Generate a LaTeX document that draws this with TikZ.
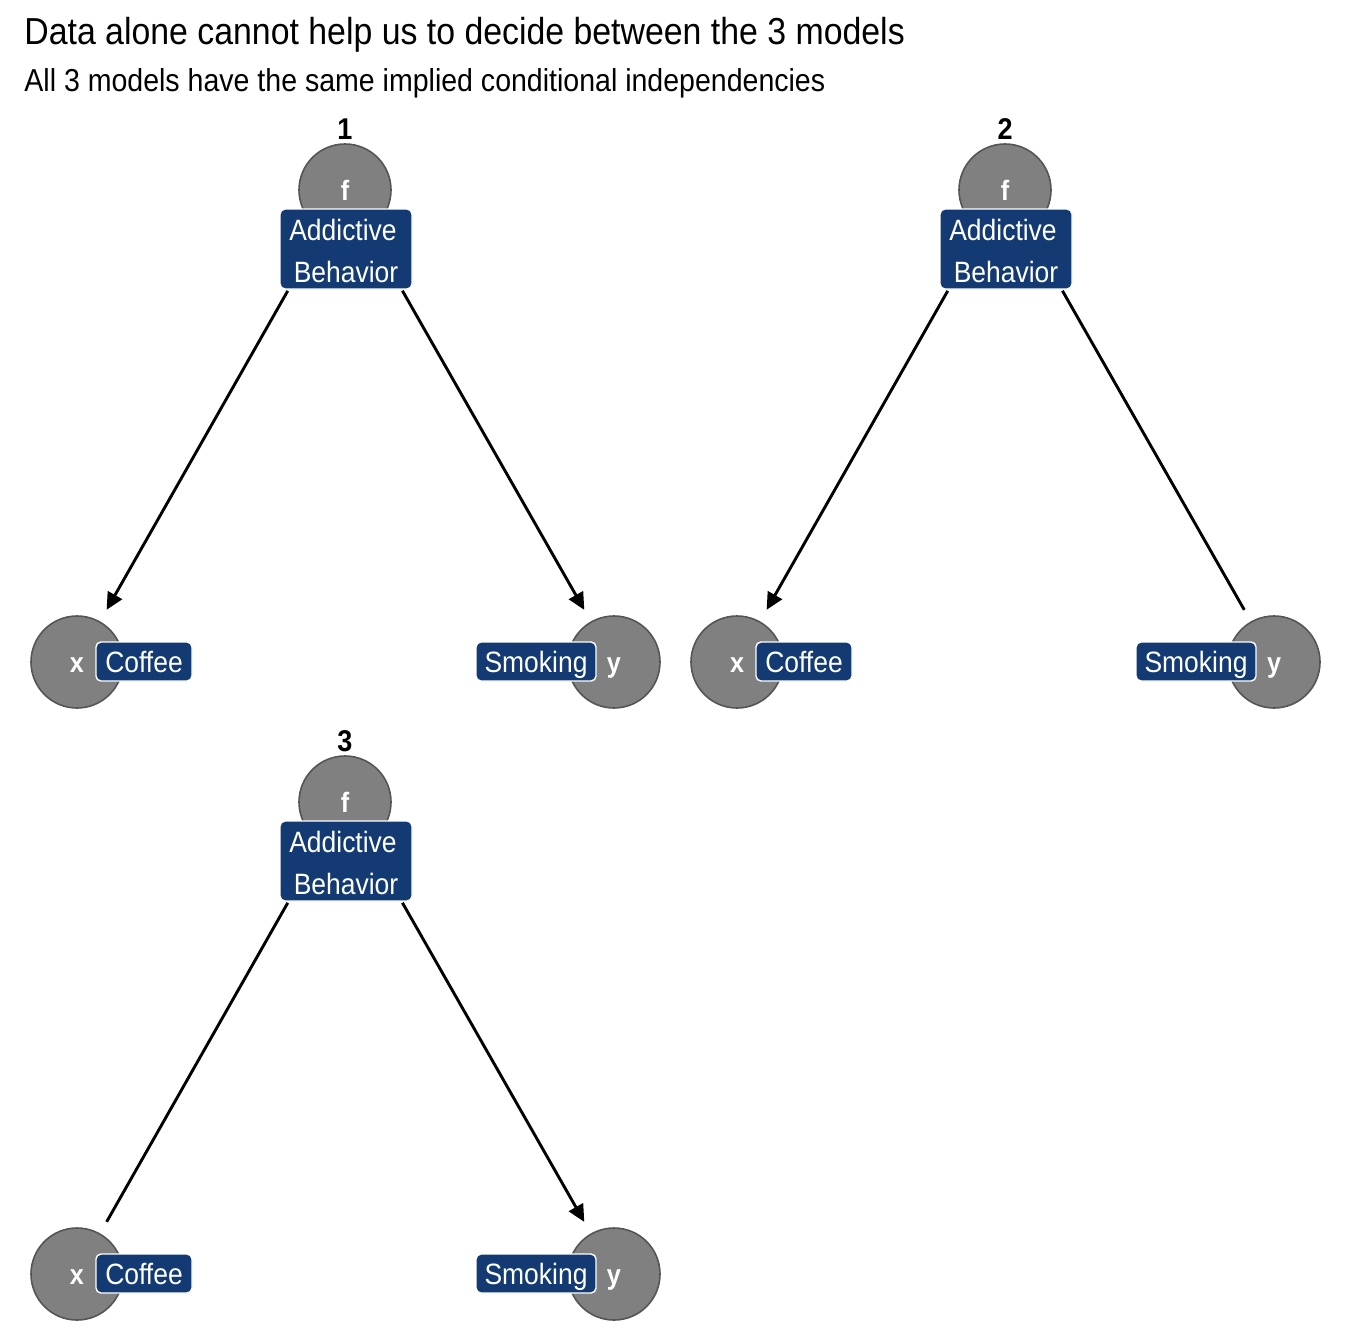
\documentclass[tikz,border=0pt]{standalone}
\usepackage{fontspec}
\setmainfont{Liberation Sans}[FakeStretch=0.9]
\usetikzlibrary{arrows.meta}
\definecolor{lblue}{HTML}{133A73}
\definecolor{cgray}{HTML}{808080}
\definecolor{cedge}{HTML}{555555}
\tikzset{
  vnode/.style={circle,draw=cedge,fill=cgray,line width=0.8pt,minimum size=46pt,inner sep=0pt},
  vlet/.style={text=white,font=\bfseries\fontsize{14}{14}\selectfont,inner sep=0pt,anchor=base},
  lbl/.style={draw=white,fill=lblue,text=white,rounded corners=2.5pt,line width=0.7pt,inner sep=0pt,
    font=\fontsize{14.7}{14.7}\selectfont,text height=10.5pt,text depth=0pt},
  bigl/.style={lbl,minimum width=66pt,minimum height=40pt},
  coffl/.style={lbl,minimum width=48pt,minimum height=19.5pt},
  smokl/.style={lbl,minimum width=60pt,minimum height=19.5pt},
  ltxt/.style={text=white,font=\fontsize{14.7}{14.7}\selectfont,inner sep=0pt,anchor=base},
  pnum/.style={font=\bfseries\fontsize{15}{15}\selectfont,inner sep=0pt,anchor=base},
  edg/.style={line width=1.45pt,shorten <=58pt,shorten >=30pt},
  arr/.style={edg,-{Triangle[length=8.5pt,width=8pt]}}
}
\begin{document}
\begin{tikzpicture}[x=0.5pt,y=-0.5pt]
\useasboundingbox (0,0) rectangle (1344,1344);
\node[anchor=base west,inner sep=0pt,font=\fontsize{18.8}{18.8}\selectfont] (title) at (24,44) {Data alone cannot help us to decide between the 3 models};
\node[anchor=base west,inner sep=0pt,font=\fontsize{15.85}{15.85}\selectfont] (sub) at (24,91) {All 3 models have the same implied conditional independencies};
% panel 1
\begin{scope}
\node[pnum] (n1) at (345,139) {1};
\node[vnode] (f1) at (345,190) {};
\node[vnode] (x1) at (77,662) {};
\node[vnode] (y1) at (614,662) {};
\draw[arr] (f1.center) -- (x1.center);
\draw[arr] (f1.center) -- (y1.center);
\node[vlet] (fl1) at (345,200) {f};
\node[vlet] (xl1) at (77,672) {x};
\node[vlet] (yl1) at (614,672) {y};
\node[bigl] (ab1) at (346,249) {};
\node[ltxt] (ab1a) at (343,240) {Addictive};
\node[ltxt] (ab1b) at (346,282) {Behavior};
\node[coffl] (cf1) at (144,661.5) {Coffee};
\node[smokl] (sm1) at (536,661.5) {Smoking};
\end{scope}
% panel 2
\begin{scope}[shift={(660,0)}]
\node[pnum] (n2) at (345,139) {2};
\node[vnode] (f2) at (345,190) {};
\node[vnode] (x2) at (77,662) {};
\node[vnode] (y2) at (614,662) {};
\draw[arr] (f2.center) -- (x2.center);
\draw[edg] (f2.center) -- (y2.center);
\node[vlet] (fl2) at (345,200) {f};
\node[vlet] (xl2) at (77,672) {x};
\node[vlet] (yl2) at (614,672) {y};
\node[bigl] (ab2) at (346,249) {};
\node[ltxt] (ab2a) at (343,240) {Addictive};
\node[ltxt] (ab2b) at (346,282) {Behavior};
\node[coffl] (cf2) at (144,661.5) {Coffee};
\node[smokl] (sm2) at (536,661.5) {Smoking};
\end{scope}
% panel 3
\begin{scope}[shift={(0,612)}]
\node[pnum] (n3) at (345,139) {3};
\node[vnode] (f3) at (345,190) {};
\node[vnode] (x3) at (77,662) {};
\node[vnode] (y3) at (614,662) {};
\draw[edg] (f3.center) -- (x3.center);
\draw[arr] (f3.center) -- (y3.center);
\node[vlet] (fl3) at (345,200) {f};
\node[vlet] (xl3) at (77,672) {x};
\node[vlet] (yl3) at (614,672) {y};
\node[bigl] (ab3) at (346,249) {};
\node[ltxt] (ab3a) at (343,240) {Addictive};
\node[ltxt] (ab3b) at (346,282) {Behavior};
\node[coffl] (cf3) at (144,661.5) {Coffee};
\node[smokl] (sm3) at (536,661.5) {Smoking};
\end{scope}
\end{tikzpicture}
\end{document}
